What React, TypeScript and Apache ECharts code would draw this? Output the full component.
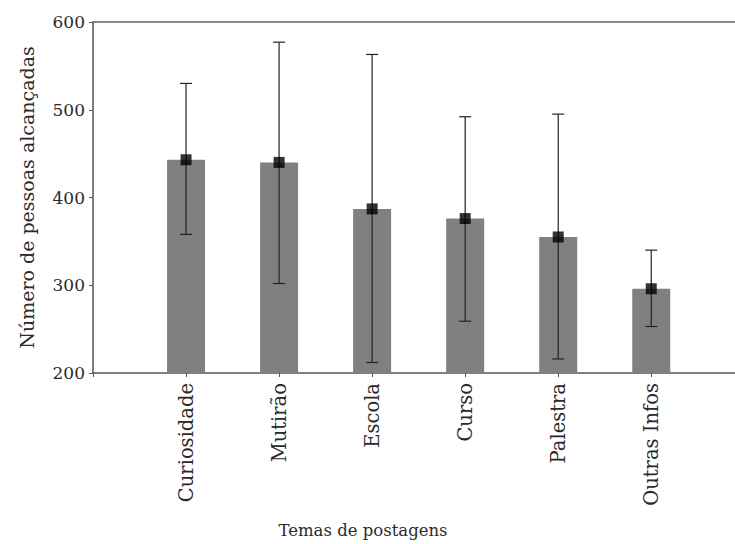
import React, { useEffect, useRef } from "react";
import * as echarts from "echarts";

const categories = ["Curiosidade", "Mutirão", "Escola", "Curso", "Palestra", "Outras Infos"];
const positions = [1, 2, 3, 4, 5, 6];
const means = [443, 440, 387, 376, 355, 296];
const errLow = [358, 302, 212, 259, 216, 253];
const errHigh = [530, 577, 563, 492, 495, 340];
const yTicks = [200, 300, 400, 500, 600];
const xTitle = "Temas de postagens";
const yTitle = "Número de pessoas alcançadas";

const FONT = "DejaVu Serif";

export default function App() {
  const ref = useRef<HTMLDivElement>(null);
  useEffect(() => {
    document.body.style.margin = "0";
    const chart = echarts.init(ref.current!, null, { renderer: "svg" });
    const barData = positions.map((p, i) => [p, means[i]]);
    const errData = positions.map((p, i) => [p, errLow[i], errHigh[i]]);
    chart.setOption({
      animation: false,
      grid: { left: 93, right: 0, top: 22, bottom: 171 },
      graphic: [
        {
          type: "text",
          x: 363,
          y: 530,
          style: {
            text: xTitle,
            fontFamily: FONT,
            fontSize: 16.5,
            fill: "#2a2a2a",
            align: "center",
            verticalAlign: "middle",
          },
        },
      ],
      xAxis: [
        {
          type: "value",
          min: 0,
          max: 6.9,
          interval: 1,
          splitLine: { show: false },
          axisLine: { show: true, lineStyle: { color: "#555", width: 1.5 } },
          axisTick: { show: true, length: 4, lineStyle: { color: "#555" } },
          axisLabel: {
            rotate: 90,
            margin: 10,
            fontFamily: FONT,
            fontSize: 19.5,
            color: "#2a2a2a",
            showMaxLabel: false,
            formatter: (v: number) => {
              const idx = positions.indexOf(v);
              return idx >= 0 ? categories[idx] : "";
            },
          },
        },
        {
          type: "value",
          position: "top",
          min: 0,
          max: 6.9,
          axisLine: { show: true, lineStyle: { color: "#666", width: 1.5 } },
          axisTick: { show: false },
          axisLabel: { show: false },
          splitLine: { show: false },
        },
      ],
      yAxis: {
        type: "value",
        min: yTicks[0],
        max: yTicks[yTicks.length - 1],
        interval: 100,
        splitLine: { show: false },
        axisLine: { show: true, lineStyle: { color: "#555", width: 1.5 } },
        axisTick: { show: true, length: 4, lineStyle: { color: "#555" } },
        axisLabel: { fontFamily: FONT, fontSize: 17, color: "#2a2a2a", margin: 8 },
        name: yTitle,
        nameLocation: "middle",
        nameGap: 57,
        nameTextStyle: { fontFamily: FONT, fontSize: 19, color: "#2a2a2a" },
      },
      series: [
        {
          type: "bar",
          data: barData,
          barWidth: 38,
          itemStyle: { color: "#808080" },
        },
        {
          type: "custom",
          data: errData,
          z: 5,
          renderItem: (params: any, api: any) => {
            const x = api.value(0);
            const lo = api.coord([x, api.value(1)]);
            const hi = api.coord([x, api.value(2)]);
            const hw = 6;
            const style = { stroke: "#222", lineWidth: 1.2 };
            return {
              type: "group",
              children: [
                { type: "line", shape: { x1: lo[0], y1: lo[1], x2: hi[0], y2: hi[1] }, style },
                { type: "line", shape: { x1: hi[0] - hw, y1: hi[1], x2: hi[0] + hw, y2: hi[1] }, style },
                { type: "line", shape: { x1: lo[0] - hw, y1: lo[1], x2: lo[0] + hw, y2: lo[1] }, style },
              ],
            };
          },
        },
        {
          type: "scatter",
          data: barData,
          symbol: "rect",
          symbolSize: 11,
          z: 10,
          itemStyle: { color: "#000" },
        },
      ],
    });
    return () => chart.dispose();
  }, []);
  return <div ref={ref} style={{ width: 735, height: 544, position: "absolute", left: 0, top: 0 }} />;
}
